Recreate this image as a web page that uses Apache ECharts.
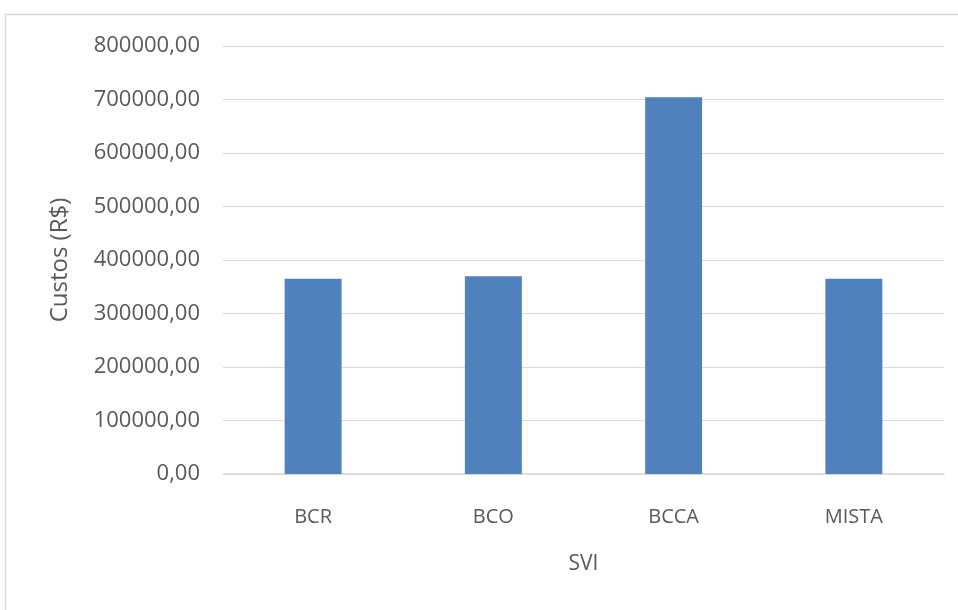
<!DOCTYPE html>
<html>
<head>
<meta charset="utf-8">
<script src="https://cdn.jsdelivr.net/npm/echarts@6/dist/echarts.min.js"></script>
<style>
  html, body { margin: 0; padding: 0; background: #ffffff; }
  #chart { width: 958px; height: 610px; }
</style>
</head>
<body>
<div id="chart"></div>
<script>
// SVI cost comparison
const categories = ['BCR', 'BCO', 'BCCA', 'MISTA'];
const costs = [365000, 369500, 704000, 365000];
const yTicks = { min: 0, max: 800000, interval: 100000 };

const textColor = '#595959';
const font = '"Open Sans", "Noto Sans", sans-serif';

const chart = echarts.init(document.getElementById('chart'), null, { renderer: 'canvas' });
chart.setOption({
  animation: false,
  backgroundColor: '#ffffff',
  graphic: [{
    type: 'rect',
    shape: { x: 5.5, y: 14.5, width: 1200, height: 1200 },
    style: { fill: 'none', stroke: '#d9d9d9', lineWidth: 1.5 },
    silent: true
  }],
  grid: { left: 223, right: 14, top: 46, height: 428, containLabel: false },
  xAxis: {
    type: 'category',
    data: categories,
    name: 'SVI',
    nameLocation: 'middle',
    nameGap: 80,
    nameTextStyle: { color: textColor, fontFamily: font, fontSize: 21 },
    axisLine: { show: true, lineStyle: { color: '#d9d9d9', width: 1.5 } },
    axisTick: { show: false },
    axisLabel: { color: textColor, fontFamily: font, fontSize: 20, margin: 33 }
  },
  yAxis: {
    type: 'value',
    min: yTicks.min,
    max: yTicks.max,
    interval: yTicks.interval,
    name: 'Custos (R$)',
    nameLocation: 'middle',
    nameGap: 151,
    nameTextStyle: { color: textColor, fontFamily: font, fontSize: 24 },
    axisLine: { show: false },
    axisTick: { show: false },
    splitLine: { lineStyle: { color: '#d9d9d9', width: 1 } },
    axisLabel: {
      color: textColor, fontFamily: font, fontSize: 22, margin: 23,
      formatter: v => v.toFixed(2).replace('.', ',')
    }
  },
  series: [{
    type: 'bar',
    data: costs,
    barWidth: '31.6%',
    itemStyle: { color: '#4f81bd' }
  }]
});
</script>
</body>
</html>
